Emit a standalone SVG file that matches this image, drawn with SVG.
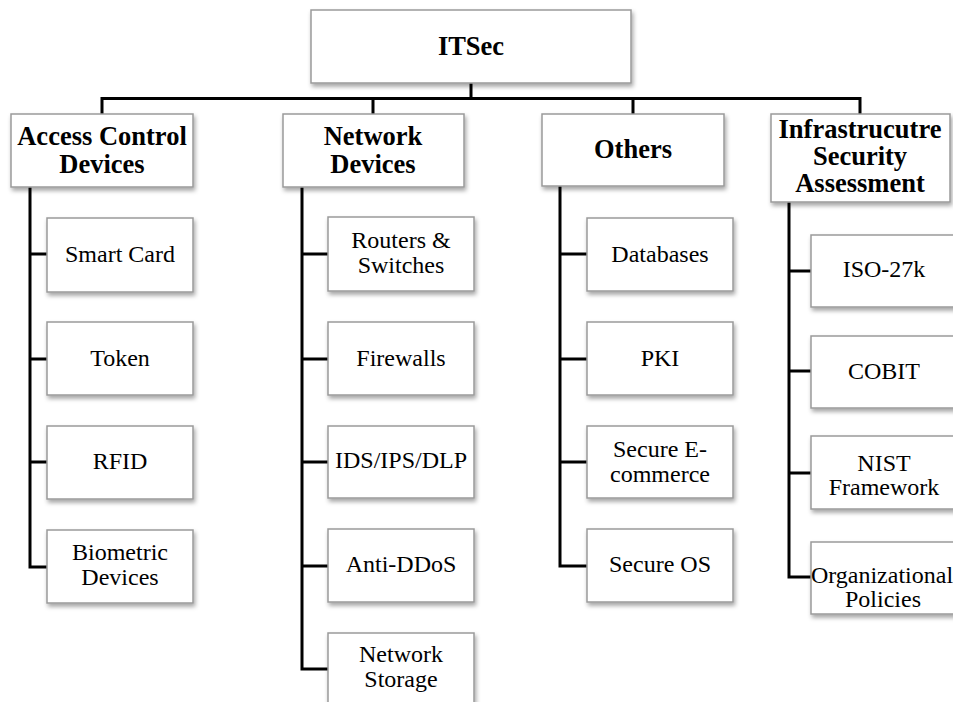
<svg xmlns="http://www.w3.org/2000/svg" width="953" height="702" viewBox="0 0 953 702">
<defs>
<filter id="sh" x="-10%" y="-10%" width="125%" height="130%">
<feDropShadow dx="1.5" dy="3" stdDeviation="2" flood-color="#000" flood-opacity="0.35"/>
</filter>
<style>
.box{fill:#fff;stroke:#9a9a9a;stroke-width:1.5;filter:url(#sh)}
.t{font-family:"Liberation Serif","Times New Roman",serif;font-size:24px;fill:#000;text-anchor:middle}
.b{font-family:"Liberation Serif","Times New Roman",serif;font-size:26.5px;font-weight:bold;fill:#000;text-anchor:middle}
.c{stroke:#000;stroke-width:3;fill:none}
</style>
</defs>
<rect width="953" height="702" fill="#fff"/>
<g id="connectors">
<path class="c" d="M471,83V98.5M102,114V98.5H860V114M373,98.5V114M633,98.5V114"/>
<path class="c" d="M30,187V567H47M30,254H47M30,359H47M30,462H47"/>
<path class="c" d="M302,187V669H328M302,254H328M302,359H328M302,462H328M302,566H328"/>
<path class="c" d="M560,186V566H587M560,254H587M560,359H587M560,462H587"/>
<path class="c" d="M789,202V577H811M789,271H811M789,371H811M789,473H811"/>
</g>
<g id="itsec"><rect class="box" x="311" y="10" width="320" height="73"/><text class="b" x="471" y="55">ITSec</text></g>
<g id="access"><rect class="box" x="11" y="114" width="182" height="73"/><text class="b" x="102" y="145">Access Control</text><text class="b" x="102" y="173">Devices</text></g>
<g id="network"><rect class="box" x="283" y="114" width="181" height="73"/><text class="b" x="373" y="145">Network</text><text class="b" x="373" y="173">Devices</text></g>
<g id="others"><rect class="box" x="542" y="114" width="182" height="72"/><text class="b" x="633" y="158">Others</text></g>
<g id="infra"><rect class="box" x="771" y="114" width="179" height="88"/><text class="b" x="860" y="138">Infrastrucutre</text><text class="b" x="860" y="165">Security</text><text class="b" x="860" y="192">Assessment</text></g>

<g id="smartcard"><rect class="box" x="47" y="218" width="146" height="74"/><text class="t" x="120" y="262">Smart Card</text></g>
<g id="token"><rect class="box" x="47" y="322" width="146" height="73"/><text class="t" x="120" y="366">Token</text></g>
<g id="rfid"><rect class="box" x="47" y="426" width="146" height="73"/><text class="t" x="120" y="469">RFID</text></g>
<g id="biometric"><rect class="box" x="47" y="530" width="146" height="73"/><text class="t" x="120" y="560">Biometric</text><text class="t" x="120" y="585">Devices</text></g>

<g id="routers"><rect class="box" x="328" y="217" width="146" height="74"/><text class="t" x="401" y="248">Routers &amp;</text><text class="t" x="401" y="273">Switches</text></g>
<g id="firewalls"><rect class="box" x="328" y="322" width="146" height="73"/><text class="t" x="401" y="366">Firewalls</text></g>
<g id="ids"><rect class="box" x="328" y="426" width="146" height="72"/><text class="t" x="401" y="468">IDS/IPS/DLP</text></g>
<g id="antiddos"><rect class="box" x="328" y="529" width="146" height="73"/><text class="t" x="401" y="572">Anti-DDoS</text></g>
<g id="netstorage"><rect class="box" x="328" y="633" width="146" height="73"/><text class="t" x="401" y="662">Network</text><text class="t" x="401" y="687">Storage</text></g>

<g id="databases"><rect class="box" x="587" y="218" width="146" height="73"/><text class="t" x="660" y="262">Databases</text></g>
<g id="pki"><rect class="box" x="587" y="322" width="146" height="73"/><text class="t" x="660" y="366">PKI</text></g>
<g id="ecommerce"><rect class="box" x="587" y="426" width="146" height="72"/><text class="t" x="660" y="457">Secure E-</text><text class="t" x="660" y="482">commerce</text></g>
<g id="secureos"><rect class="box" x="587" y="529" width="146" height="73"/><text class="t" x="660" y="572">Secure OS</text></g>

<g id="iso"><rect class="box" x="811" y="235" width="146" height="72"/><text class="t" x="884" y="277">ISO-27k</text></g>
<g id="cobit"><rect class="box" x="811" y="336" width="146" height="72"/><text class="t" x="884" y="379">COBIT</text></g>
<g id="nist"><rect class="box" x="811" y="436" width="146" height="73"/><text class="t" x="884" y="471">NIST</text><text class="t" x="884" y="495">Framework</text></g>
<g id="org"><rect class="box" x="811" y="542" width="146" height="72"/><text class="t" x="882" y="583">Organizational</text><text class="t" x="883" y="607">Policies</text></g>
</svg>
